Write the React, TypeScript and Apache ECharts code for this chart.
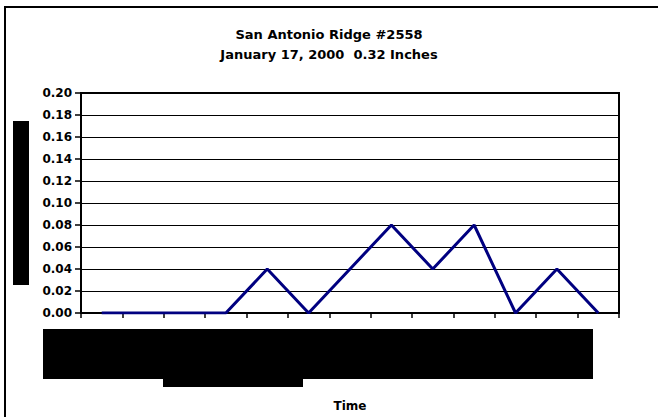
import React, { useEffect, useRef } from "react";
import * as echarts from "echarts";

const titleLines = ["San Antonio Ridge #2558", "January 17, 2000  0.32 Inches"];
const categories = ["1", "2", "3", "4", "5", "6", "7", "8", "9", "10", "11", "12", "13"];
const rainfall = [0, 0, 0, 0, 0.04, 0, 0.04, 0.08, 0.04, 0.08, 0, 0.04, 0];
const xAxisName = "Time";
const yMin = 0;
const yMax = 0.2;
const yStep = 0.02;

const FONT = "'DejaVu Sans', Verdana, sans-serif";

export default function App() {
  const ref = useRef<HTMLDivElement>(null);
  useEffect(() => {
    document.body.style.margin = "0";
    const chart = echarts.init(ref.current!, null, { renderer: "svg" });
    chart.setOption({
      animation: false,
      backgroundColor: "#ffffff",
      title: {
        text: titleLines.join("\n"),
        left: "center",
        top: 24,
        padding: 0,
        textStyle: {
          fontFamily: FONT,
          fontWeight: "bold",
          fontSize: 13,
          lineHeight: 20,
          color: "#000000",
        },
      },
      grid: {
        left: 81,
        right: 39,
        top: 93,
        bottom: 104,
        show: true,
        borderColor: "#000000",
        borderWidth: 2,
        outerBoundsMode: "none",
        containLabel: false,
      },
      xAxis: {
        type: "category",
        data: categories,
        boundaryGap: true,
        name: xAxisName,
        nameLocation: "middle",
        nameGap: 87,
        nameTextStyle: {
          fontFamily: FONT,
          fontWeight: "bold",
          fontSize: 12,
          color: "#000000",
        },
        axisLine: { show: true, lineStyle: { color: "#000000", width: 2 } },
        axisTick: { show: true, length: 5, interval: 0, alignWithLabel: false, lineStyle: { color: "#000000", width: 1.5 } },
        axisLabel: { show: false },
        splitLine: { show: false },
      },
      yAxis: {
        type: "value",
        min: yMin,
        max: yMax,
        interval: yStep,
        axisLine: { show: true, lineStyle: { color: "#000000", width: 2 } },
        axisTick: { show: true, length: 6, lineStyle: { color: "#000000", width: 1.5 } },
        axisLabel: {
          margin: 9,
          fontFamily: FONT,
          fontWeight: "bold",
          fontSize: 12,
          color: "#000000",
          formatter: (v: number) => v.toFixed(2),
        },
        splitLine: { show: true, lineStyle: { color: "#000000", width: 1 } },
      },
      series: [
        {
          type: "line",
          data: rainfall,
          symbol: "none",
          lineStyle: { color: "#000080", width: 3 },
          itemStyle: { color: "#000080" },
        },
      ],
      graphic: [
        {
          type: "rect",
          shape: { x: 5, y: 7, width: 700, height: 500 },
          style: { fill: "none", stroke: "#000000", lineWidth: 2 },
          silent: true,
        },
        {
          type: "rect",
          shape: { x: 13, y: 121, width: 16, height: 164 },
          style: { fill: "#000000" },
          silent: true,
        },
        {
          type: "rect",
          shape: { x: 43, y: 329, width: 550, height: 50 },
          style: { fill: "#000000" },
          silent: true,
        },
        {
          type: "rect",
          shape: { x: 163, y: 378, width: 140, height: 9 },
          style: { fill: "#000000" },
          silent: true,
        },
      ],
    });
    return () => chart.dispose();
  }, []);
  return <div ref={ref} style={{ width: 658, height: 417 }} />;
}
